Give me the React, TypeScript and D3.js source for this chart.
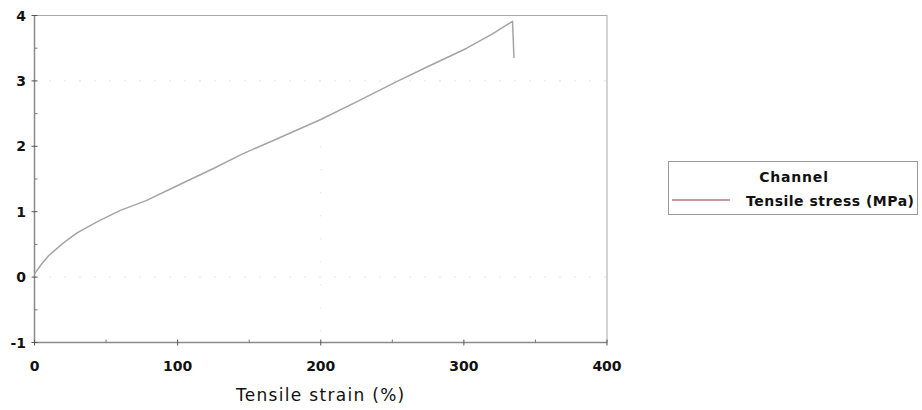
import React from "react";
import * as d3 from "d3";

const strain = [0, 5, 10, 20, 30, 45, 60, 78, 100, 125, 145, 170, 200, 225, 253, 275, 302, 320, 334, 335];
const stress = [0.05, 0.2, 0.33, 0.52, 0.68, 0.86, 1.02, 1.17, 1.4, 1.66, 1.88, 2.12, 2.41, 2.68, 2.99, 3.22, 3.5, 3.72, 3.91, 3.35];
const xTicks = [0, 100, 200, 300, 400];
const xMinor = [50, 150, 250, 350];
const yTicks = [-1, 0, 1, 2, 3, 4];
const yMinor = [-0.5, 0.5, 1.5, 2.5, 3.5];
const seriesName = "Tensile stress (MPa)";
const legendTitle = "Channel";
const xTitle = "Tensile strain (%)";

export default function App() {
  const W = 922, H = 410;
  const left = 34.5, right = 607, top = 15.5, bottom = 342.5;
  const x = d3.scaleLinear().domain([0, 400]).range([left, right]);
  const y = d3.scaleLinear().domain([-1, 4]).range([bottom, top]);
  const line = d3.line<number>().x((_, i) => x(strain[i])).y((d) => y(d));
  const font = "'DejaVu Sans', Verdana, sans-serif";
  const axisCol = "#8a8a8a";
  return (
    <svg width={W} height={H} style={{ position: "absolute", left: 0, top: 0, background: "#fff" }}>
      {/* faint dotted grid */}
      {[0, 3].map((v) => (
        <line key={"g" + v} x1={left} x2={right} y1={y(v)} y2={y(v)} stroke="#c8c8c8" strokeWidth={1} strokeDasharray="1,14" />
      ))}
      <line x1={x(200)} x2={x(200)} y1={y(2)} y2={bottom} stroke="#d8d8d8" strokeWidth={1} strokeDasharray="1,22" />
      {/* frame */}
      <rect x={left} y={top} width={right - left} height={bottom - top} fill="none" stroke="#a8a8a8" strokeWidth={1} />
      <line x1={left} x2={left} y1={top} y2={bottom} stroke={axisCol} strokeWidth={1.5} />
      <line x1={left} x2={right} y1={bottom} y2={bottom} stroke={axisCol} strokeWidth={1.5} />
      {/* y ticks */}
      {yTicks.map((v) => (
        <g key={"y" + v}>
          <line x1={left - 3} x2={left + 3} y1={y(v)} y2={y(v)} stroke="#555" strokeWidth={1} />
          <text x={26} y={y(v)} dy="0.36em" textAnchor="end" fontFamily={font} fontSize={14} fontWeight="bold" fill="#111">
            {v}
          </text>
        </g>
      ))}
      {yMinor.map((v) => (
        <line key={"ym" + v} x1={left} x2={left + 3} y1={y(v)} y2={y(v)} stroke="#777" strokeWidth={1} />
      ))}
      {/* x ticks */}
      {xTicks.map((v) => (
        <g key={"x" + v}>
          <line x1={x(v)} x2={x(v)} y1={bottom - 3} y2={bottom + 3} stroke="#555" strokeWidth={1} />
          <text x={x(v)} y={371} textAnchor="middle" fontFamily={font} fontSize={14} fontWeight="bold" fill="#111">
            {v}
          </text>
        </g>
      ))}
      {xMinor.map((v) => (
        <line key={"xm" + v} x1={x(v)} x2={x(v)} y1={bottom - 3} y2={bottom} stroke="#777" strokeWidth={1} />
      ))}
      <text x={(left + right) / 2} y={401} textAnchor="middle" fontFamily={font} fontSize={17} letterSpacing={1.3} fill="#111">
        {xTitle}
      </text>
      {/* series */}
      <path d={line(stress) || ""} fill="none" stroke="#a4a4a4" strokeWidth={1.5} strokeLinejoin="round" />
      {/* legend */}
      <rect x={668.5} y={161.5} width={249} height={53} fill="#fff" stroke="#999" strokeWidth={1} />
      <text x={794} y={182} textAnchor="middle" fontFamily={font} fontSize={14} fontWeight="bold" letterSpacing={0.8} fill="#111">
        {legendTitle}
      </text>
      <line x1={672} x2={730} y1={200} y2={200} stroke="#b07880" strokeWidth={1.5} />
      <text x={746} y={206} fontFamily={font} fontSize={14} fontWeight="bold" letterSpacing={0.5} fill="#111">
        {seriesName}
      </text>
    </svg>
  );
}
